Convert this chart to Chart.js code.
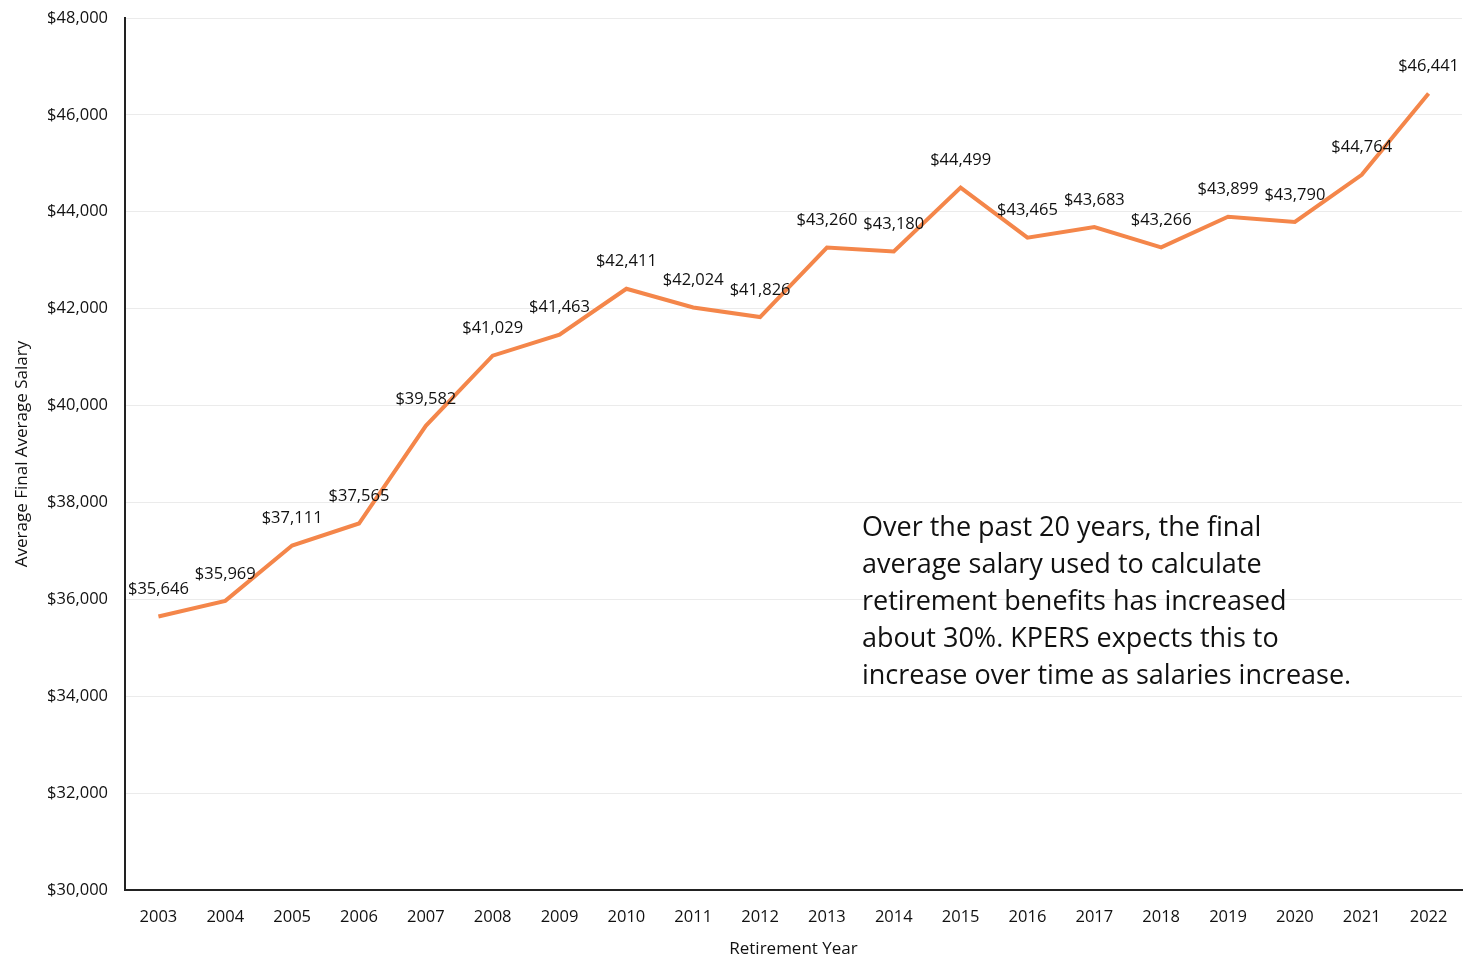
<!DOCTYPE html>
<html>
<head>
<meta charset="utf-8">
<script src="https://cdn.jsdelivr.net/npm/chart.js@4.4.1/dist/chart.umd.min.js"></script>
<style>
html,body{margin:0;padding:0;background:#fff;}
#wrap{width:1464px;height:959px;position:relative;}
</style>
</head>
<body>
<div id="wrap"><canvas id="c" width="1464" height="959"></canvas></div>
<script>
const years = ['2003','2004','2005','2006','2007','2008','2009','2010','2011','2012','2013','2014','2015','2016','2017','2018','2019','2020','2021','2022'];
const salaries = [35646,35969,37111,37565,39582,41029,41463,42411,42024,41826,43260,43180,44499,43465,43683,43266,43899,43790,44764,46441];
const noteLines = ['Over the past 20 years, the final','average salary used to calculate','retirement benefits has increased','about 30%. KPERS expects this to','increase over time as salaries increase.'];
const yTitle = 'Average Final Average Salary';
const xTitle = 'Retirement Year';

const FONT = '"Open Sans", "Noto Sans", sans-serif';
const fmt = v => '$' + v.toLocaleString('en-US');

const labelPlugin = {
  id: 'labels',
  afterDatasetsDraw(chart) {
    const ctx = chart.ctx;
    const meta = chart.getDatasetMeta(0);
    ctx.save();
    ctx.font = '16.5px ' + FONT;
    ctx.fillStyle = '#111';
    ctx.textAlign = 'center';
    ctx.textBaseline = 'middle';
    meta.data.forEach((pt, i) => {
      ctx.fillText(fmt(salaries[i]), pt.x, pt.y - 27);
    });
    ctx.font = '27px ' + FONT;
    ctx.textAlign = 'left';
    noteLines.forEach((t, i) => {
      ctx.fillText(t, 862, 528 + i * 37);
    });
    ctx.restore();
  }
};

new Chart(document.getElementById('c'), {
  type: 'line',
  data: {
    labels: years,
    datasets: [{
      data: salaries,
      borderColor: '#F4864A',
      borderWidth: 4,
      pointRadius: 0,
      tension: 0,
      fill: false
    }]
  },
  options: {
    responsive: false,
    animation: false,
    layout: { padding: { top: 18, right: 2, left: 0, bottom: 0 } },
    plugins: { legend: { display: false }, tooltip: { enabled: false } },
    scales: {
      x: {
        offset: true,
        grid: { display: false, drawTicks: false },
        border: { display: true, color: '#222', width: 2 },
        ticks: { color: '#111', font: { family: FONT, size: 16.5 }, padding: 17, maxRotation: 0 },
        title: { display: true, text: xTitle, color: '#111', font: { family: FONT, size: 17 }, padding: { top: 4, bottom: 0 } },
        afterFit(s) { s.height = 69; s.paddingLeft = 0; s.paddingRight = 0; }
      },
      y: {
        min: 30000, max: 48000,
        ticks: { stepSize: 2000, color: '#111', font: { family: FONT, size: 16.5 }, padding: 17, callback: v => fmt(v) },
        grid: { color: '#ebebeb', lineWidth: 1, drawTicks: false },
        border: { display: true, color: '#222', width: 2 },
        title: { display: true, text: yTitle, color: '#111', font: { family: FONT, size: 17 }, padding: { top: 12, bottom: 0 } },
        afterFit(s) { s.width = 125; s.paddingTop = 0; s.paddingBottom = 0; }
      }
    }
  },
  plugins: [labelPlugin]
});
</script>
</body>
</html>
